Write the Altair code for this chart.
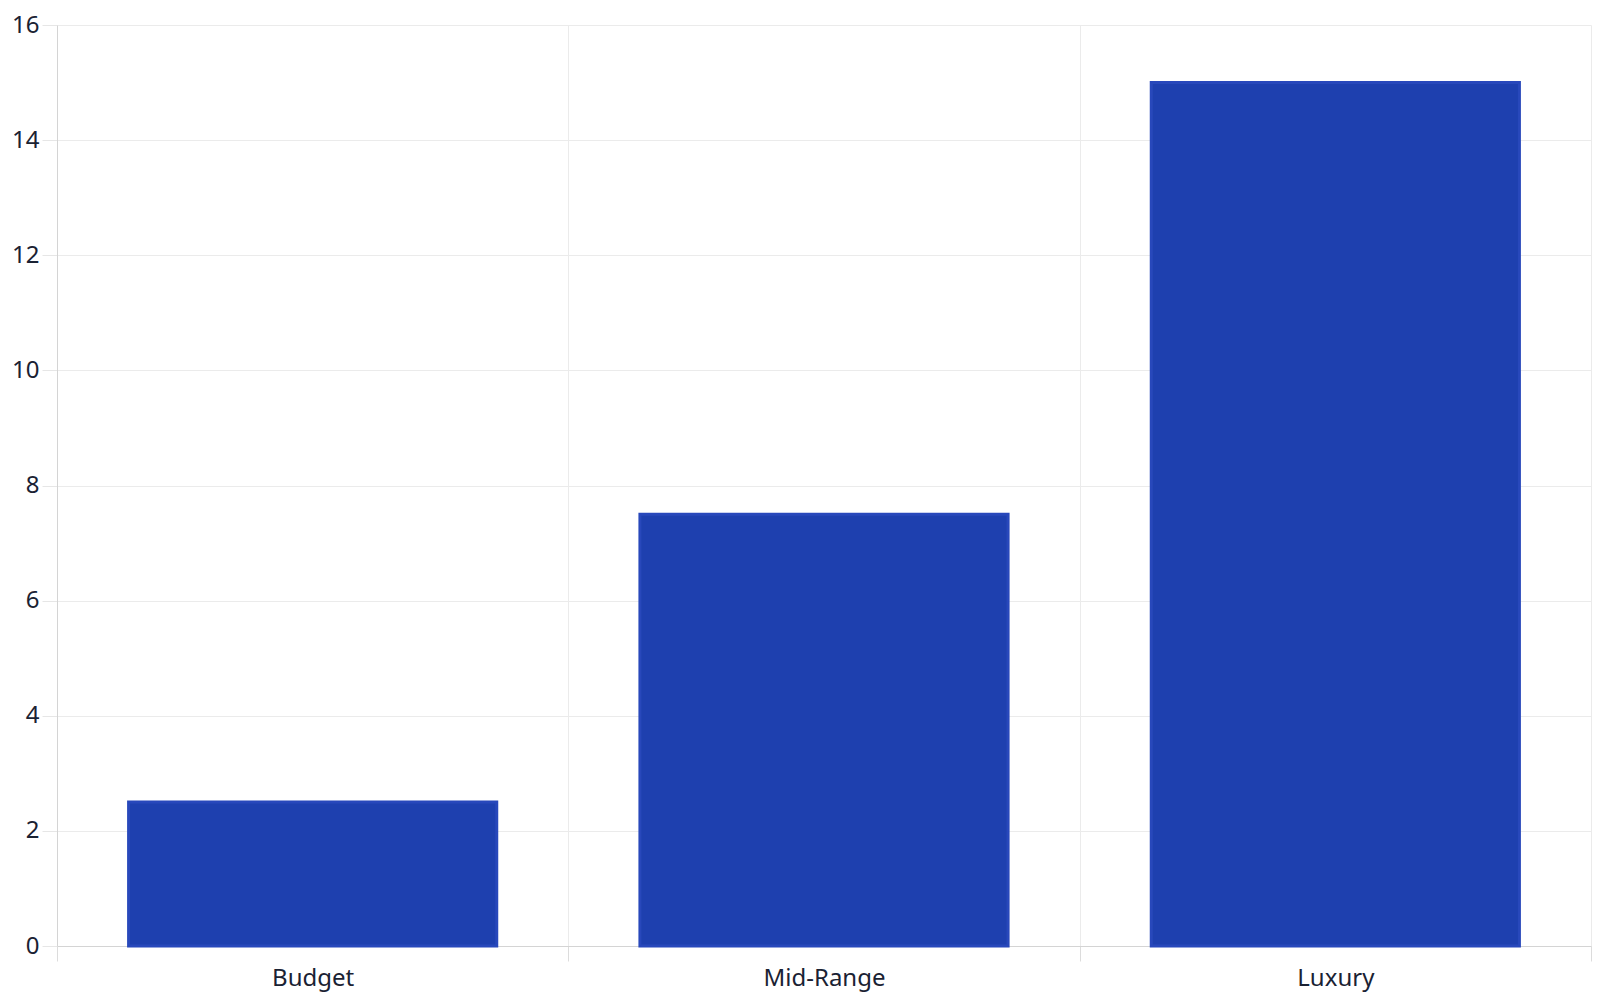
import altair as alt
import pandas as pd

categories = ["Budget", "Mid-Range", "Luxury"]
values = [2.5, 7.5, 15]

df = pd.DataFrame({"category": categories, "value": values})

FONT = "Noto Sans"

chart = alt.Chart(df).mark_bar(
    color="#1e40af",
    stroke="#2848bb",
    strokeWidth=3,
    width=alt.RelativeBandSize(0.72),
).encode(
    x=alt.X(
        "category:N",
        sort=categories,
        title=None,
        scale=alt.Scale(paddingInner=0, paddingOuter=0),
        axis=alt.Axis(
            labelAngle=0,
            tickBand="extent",
            grid=True,
            gridColor="#ebebeb",
            domainColor="#d4d4d4",
            tickColor="#dcdcdc",
            tickSize=15,
            labelPadding=5,
            labelFontSize=24,
            labelFont=FONT,
            labelColor="#1a2233",
        ),
    ),
    y=alt.Y(
        "value:Q",
        title=None,
        scale=alt.Scale(domain=[0, 16]),
        axis=alt.Axis(
            values=[0, 2, 4, 6, 8, 10, 12, 14, 16],
            grid=True,
            gridColor="#ebebeb",
            domainColor="#d4d4d4",
            tickColor="#e6e6e6",
            tickSize=15,
            labelPadding=3,
            labelFontSize=24,
            labelFont=FONT,
            labelColor="#1a2233",
        ),
    ),
).properties(
    width=1584,
    height=984,
    padding={"left": 3, "top": 5, "right": 0, "bottom": 2},
    autosize=alt.AutoSizeParams(type="fit", contains="padding"),
).configure_view(
    stroke=None
)

chart.save("out.html", embed_options={"renderer": "svg", "actions": False})
